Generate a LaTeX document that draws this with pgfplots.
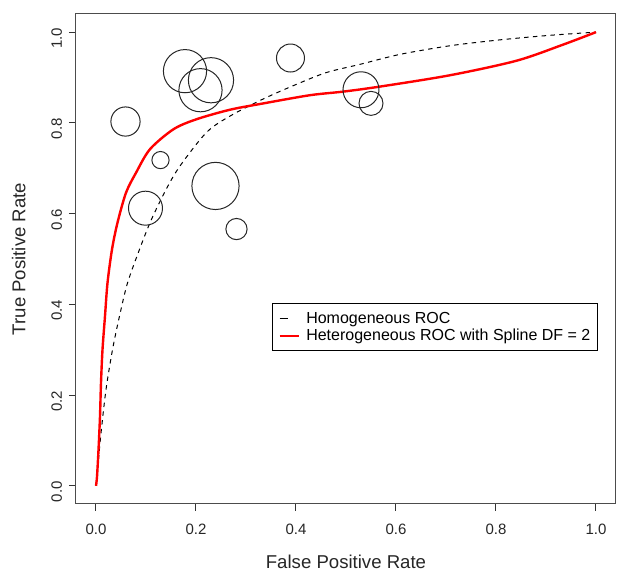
\documentclass[border=0pt]{standalone}
\usepackage{fontspec}
\setmainfont{Liberation Sans}
\usepackage{pgfplots}
\pgfplotsset{compat=1.18}
\begin{document}
\begin{tikzpicture}
\begin{axis}[
  scale only axis, width=270pt, height=245pt,
  xmin=-0.04, xmax=1.04, ymin=-0.04, ymax=1.04,
  xtick={0,0.2,0.4,0.6,0.8,1}, ytick={0,0.2,0.4,0.6,0.8,1},
  xticklabels={0.0,0.2,0.4,0.6,0.8,1.0},
  yticklabels={0.0,0.2,0.4,0.6,0.8,1.0},
  xtick pos=bottom, ytick pos=left,
  tick align=outside, major tick length=3.5pt,
  axis line style={black!70,line width=0.5pt},
  tick style={black!80,line width=0.5pt},
  tick label style={font=\fontsize{7.5}{8}\selectfont, black!85},
  xticklabel style={yshift=-3pt},
  yticklabel style={rotate=90,anchor=south,xshift=-3pt},
  xlabel={False Positive Rate}, ylabel={True Positive Rate},
  label style={font=\fontsize{9.3}{10}\selectfont, black!85},
  xlabel style={yshift=-3.5pt},
  ylabel style={yshift=6pt},
  legend cell align=left,
  legend style={at={(axis cs:0.352,0.402)},anchor=north west,
    draw=black,line width=0.5pt,inner xsep=3pt,inner ysep=3pt,
    font=\fontsize{8}{8}\selectfont,row sep=0pt,
    nodes={inner sep=0.3pt,text height=6.5pt,text depth=1.5pt}},
]

% observed studies: x = FPR, y = TPR, r = circle radius (pt)
\addplot[scatter, only marks, mark=o, line width=0.5pt, forget plot,
  scatter/use mapped color={draw=black!85},
  visualization depends on={\thisrow{r} \as \rad},
  scatter/@pre marker code/.append style={/tikz/mark size=\rad pt}]
  table[x=x,y=y] {
  x     y     r
  0.059 0.803 7.3
  0.178 0.914 10.8
  0.230 0.894 11.3
  0.209 0.872 10.8
  0.389 0.943 7.0
  0.129 0.718 4.3
  0.099 0.612 8.5
  0.239 0.661 11.8
  0.281 0.566 5.3
  0.530 0.873 9.0
  0.550 0.843 6.0
};

% homogeneous ROC
\addplot[black, line width=0.5pt, dash pattern=on 2.2pt off 2.2pt, smooth,
  legend image code/.code={\draw[black,solid,line width=0.9pt] (0pt,0pt) -- (4pt,0pt);
    \path[draw=none] (0pt,0pt) -- (13pt,0pt);}]
  coordinates {
  (0,0)(0.003,0.035)(0.010,0.116)(0.020,0.212)(0.033,0.30)(0.047,0.374)
  (0.063,0.447)(0.087,0.521)(0.110,0.585)(0.140,0.653)(0.168,0.705)
  (0.221,0.779)(0.268,0.815)(0.335,0.853)(0.401,0.885)(0.461,0.911)
  (0.528,0.929)(0.608,0.951)(0.708,0.970)(0.808,0.983)(0.908,0.993)(1,1)};

% heterogeneous ROC, spline df = 2
\addplot[red, line width=1.2pt, smooth,
  legend image code/.code={\draw[red,solid,line width=1.2pt] (0pt,0pt) -- (9.5pt,0pt);
    \path[draw=none] (0pt,0pt) -- (13pt,0pt);}]
  coordinates {
  (0,0)(0.002,0.02)(0.005,0.079)(0.008,0.153)(0.010,0.227)(0.013,0.30)
  (0.018,0.374)(0.023,0.447)(0.032,0.521)(0.043,0.58)(0.060,0.646)
  (0.080,0.69)(0.108,0.742)(0.155,0.786)(0.201,0.808)(0.268,0.829)
  (0.335,0.843)(0.428,0.861)(0.495,0.869)(0.568,0.880)(0.708,0.905)
  (0.841,0.937)(0.933,0.972)(1,1)};

\legend{Homogeneous ROC,Heterogeneous ROC with Spline DF = 2}
\end{axis}
\path (current axis.south west) ++(-38pt,-34pt) coordinate (bl);
\path (current axis.north east) ++(0.5pt,7pt) coordinate (tr);
\pgfresetboundingbox
\path[use as bounding box] (bl) rectangle (tr);
\end{tikzpicture}
\end{document}
